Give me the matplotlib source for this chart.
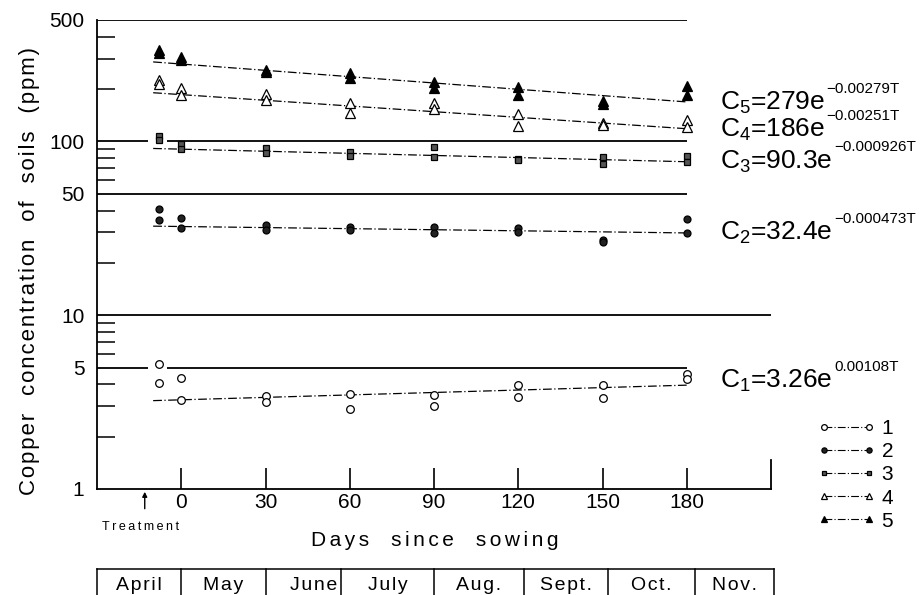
import matplotlib.pyplot as plt
import matplotlib.transforms as mtransforms
from matplotlib.lines import Line2D
from matplotlib.ticker import FixedLocator, LogLocator, NullFormatter
import numpy as np

plt.rcParams["font.family"] = ["Liberation Sans", "DejaVu Sans"]
plt.rcParams["mathtext.fontset"] = "custom"
plt.rcParams["mathtext.rm"] = "Liberation Sans"
plt.rcParams["mathtext.it"] = "Liberation Sans:italic"

# sampling days (first sampling right after treatment, before sowing)
days = [-8, 0, 30, 60, 90, 120, 150, 180]

# two replicate readings per sampling date (ppm)
cu1_a = [5.25, 4.36, 3.43, 3.52, 3.48, 3.97, 3.97, 4.59]
cu1_b = [4.07, 3.26, 3.17, 2.89, 3.00, 3.39, 3.34, 4.30]
cu2_a = [40.9, 36.3, 33.0, 32.0, 32.2, 31.8, 27.0, 35.8]
cu2_b = [35.3, 31.8, 31.0, 31.0, 29.8, 30.1, 26.5, 29.8]
cu3_a = [108, 97, 92, 87, 93, 79, 81, 82]
cu3_b = [102, 91, 86, 82, 81, 78, 74, 76]
cu4_a = [225, 203, 187, 166, 166, 144, 128, 133]
cu4_b = [215, 185, 173, 146, 154, 123, 124, 121]
cu5_a = [335, 306, 258, 248, 220, 206, 170, 208]
cu5_b = [322, 296, 250, 232, 203, 185, 164, 185]

# fitted curves C = a * exp(b * T)
fit_a = [3.26, 32.4, 90.3, 186, 279]
fit_b = [0.00108, -0.000473, -0.000926, -0.00251, -0.00279]
fit_days = [-10, 180]

series_names = ["1", "2", "3", "4", "5"]
y_ticks = [1, 5, 10, 50, 100, 500]
x_ticks = [0, 30, 60, 90, 120, 150, 180]
months = ["April", "May", "June", "July", "Aug.", "Sept.", "Oct.", "Nov."]
month_edges = [-30, 0, 30, 57, 90, 122, 152, 183, 211]

reps_a = [cu1_a, cu2_a, cu3_a, cu4_a, cu5_a]
reps_b = [cu1_b, cu2_b, cu3_b, cu4_b, cu5_b]

styles = [
    dict(marker="o", ms=5.5, mfc="white", mec="black", mew=0.9),
    dict(marker="o", ms=5.0, mfc="#222222", mec="black", mew=0.9),
    dict(marker="s", ms=4.8, mfc="#555555", mec="black", mew=0.9),
    dict(marker="^", ms=6.5, mfc="white", mec="black", mew=0.9),
    dict(marker="^", ms=6.5, mfc="black", mec="black", mew=0.9),
]
dashdot = (0, (7, 2, 1, 2))


def spaced(s, gap="\u200a"):
    return gap.join(s.replace(" ", "  "))


fig = plt.figure(figsize=(9.24, 5.95), dpi=100)
ax = fig.add_axes([97 / 924, 1 - 489 / 595, 674 / 924, 469 / 595])
ax.set_yscale("log")
ax.set_xlim(-30, 210)
ax.set_ylim(1, 500)

for sp in ["top", "right"]:
    ax.spines[sp].set_visible(False)
for sp in ["left", "bottom"]:
    ax.spines[sp].set_linewidth(1.3)

# horizontal guide lines (with the small break near the first samples)
ax.hlines([500, 50], -30, 180, color="black", lw=1.3)
ax.hlines(10, -30, 210, color="black", lw=1.3)
for lev in [100, 5]:
    ax.hlines([lev, lev], [-30, -5], [-12, 180], color="black", lw=1.3)
ax.axvline(210, ymin=0, ymax=29 / 469, color="black", lw=1.3, clip_on=False)

for i in range(5):
    ax.plot(days, reps_a[i], linestyle="none", zorder=3, **styles[i])
    ax.plot(days, reps_b[i], linestyle="none", zorder=3, **styles[i])
    fit_vals = [fit_a[i] * np.exp(fit_b[i] * t) for t in fit_days]
    ax.plot(fit_days, fit_vals, color="black", lw=0.9, linestyle=dashdot, zorder=2)

ax.xaxis.set_major_locator(FixedLocator(x_ticks))
ax.tick_params(axis="x", which="major", direction="in", length=15, width=1.2,
               pad=3, labelsize=15)
ax.yaxis.set_major_locator(FixedLocator(y_ticks))
ax.yaxis.set_major_formatter(plt.FuncFormatter(lambda v, p: f"{v:g}"))
ax.yaxis.set_minor_locator(LogLocator(base=10, subs=np.arange(2, 10)))
ax.yaxis.set_minor_formatter(NullFormatter())
ax.tick_params(axis="y", which="major", length=0, pad=9, labelsize=15)
ax.tick_params(axis="y", which="minor", direction="in", length=13, width=1.1)

fig.text(435 / 924, 1 - 541 / 595, spaced("Days since sowing", "\u2006"),
         fontsize=15, ha="center", va="center")
fig.text(30 / 924, 1 - 271 / 595, spaced("Copper concentration of soils (ppm)"),
         fontsize=16, rotation=90, ha="center", va="center")

# treatment marker
blend = mtransforms.blended_transform_factory(ax.transData, ax.transAxes)
ax.annotate("", xy=(-13, -0.006), xycoords=blend, xytext=(-13, -0.042),
            textcoords=blend,
            arrowprops=dict(arrowstyle="-|>", color="black", lw=1.0,
                            mutation_scale=7, shrinkA=0, shrinkB=0))
ax.text(-14.5, -0.082, "\u2009".join("Treatment"), transform=blend, fontsize=9,
        ha="center", va="center", clip_on=False)

# month strip under the axis
ax.plot([month_edges[0], month_edges[-1]], [-0.1706, -0.1706], transform=blend,
        color="black", lw=1.1, clip_on=False)
for e in month_edges:
    ax.plot([e, e], [-0.1706, -0.26], transform=blend, color="black", lw=1.1,
            clip_on=False)
for k, m in enumerate(months):
    lo, hi = month_edges[k], month_edges[k + 1]
    if m == "June":
        ax.text(hi - 1.5, -0.2047, spaced(m), transform=blend, fontsize=14,
                ha="right", va="center", clip_on=False)
    else:
        ax.text((lo + hi) / 2, -0.2047, spaced(m), transform=blend, fontsize=14,
                ha="center", va="center", clip_on=False)

# fitted equations
eq_y = [3.82, 27.1, 70, 106, 152]
bases = []
for i in range(5):
    t = ax.text(192, eq_y[i], f"C$_{i + 1}$={fit_a[i]:g}e", fontsize=19,
                ha="left", va="baseline", clip_on=False)
    bases.append(t)
fig.canvas.draw()
renderer = fig.canvas.get_renderer()
for i in range(5):
    w = bases[i].get_window_extent(renderer).width
    expo = f"{fit_b[i]:g}".replace("-", "\u2212") + "T"
    ax.annotate(expo, xy=(192, eq_y[i]), xycoords="data",
                xytext=(w + 1, 17), textcoords="offset pixels", fontsize=11,
                ha="left", va="baseline", annotation_clip=False)

handles = [Line2D([], [], color="black", lw=0.8, linestyle=dashdot,
                  **dict(styles[i], ms=styles[i]["ms"] * 0.75))
           for i in range(5)]
fig.legend(handles, series_names, loc="upper left",
           bbox_to_anchor=(818 / 924, 1 - 419 / 595), frameon=False,
           numpoints=2, handlelength=2.75, handletextpad=0.3,
           labelspacing=0.2, fontsize=15, borderpad=0, borderaxespad=0)

fig.savefig("out.png", dpi=100, facecolor="white")
